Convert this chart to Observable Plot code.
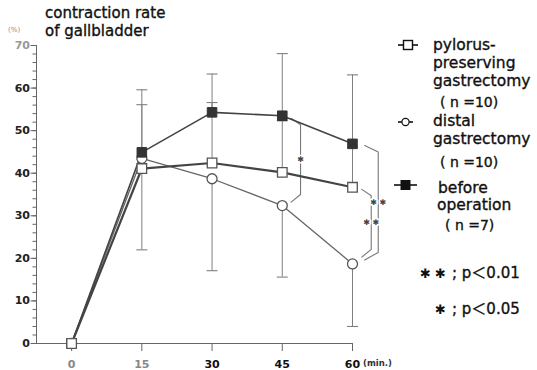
<!DOCTYPE html>
<html><head><meta charset="utf-8">
<script src="https://cdn.jsdelivr.net/npm/d3@7"></script>
<script src="https://cdn.jsdelivr.net/npm/@observablehq/plot@0.6"></script>
<style>
body{margin:0;background:#fff;}
#wrap{position:relative;width:537px;height:370px;font-family:"DejaVu Sans",sans-serif;}
#wrap svg{position:absolute;left:0;top:0;}
</style></head><body><div id="wrap"></div>
<script>
// ---- data ----
const minutes = [0, 15, 30, 45, 60];
const pylorus = [0, 41.1, 42.4, 40.2, 36.7];
const pylorusUpper = [null, 56.1, 56.6, 52.3, 46.0];
const distal = [0, 43.5, 38.7, 32.4, 18.7];
const distalLower = [null, 22.0, 17.1, 15.6, 4.0];
const before = [0, 44.9, 54.3, 53.5, 46.9];
const beforeUpper = [null, 59.6, 63.3, 68.1, 63.1];
const yTicks = [0, 10, 20, 30, 40, 50, 60, 70];
const yMinorTicks = [0,2,4,6,8,10,12,14,16,18,20,22,24,26,28,30,32,34,36,38,40,42,44,46,48,50,52,54,56,58,60,62,64,66,68,70];
const xDomain = [-7.5, 60];
const yDomain = [0, 70];
const titleLines = ["contraction rate", "of gallbladder"];
const legendNames = [["pylorus-", "preserving", "gastrectomy"], ["distal", "gastrectomy"], ["before", "operation"]];
const legendN = ["( n =10)", "( n =10)", "( n =7)"];
const sigStars = ["✱ ✱", "✱"];
const sigText = [";  p＜0.01", ";  p＜0.05"];
// significance comparisons: time, upper series, lower series, label
const comparisons = [
  {t: 45, upper: "before", lower: "distal", label: "✱"},
  {t: 60, upper: "before", lower: "distal", label: "✱ ✱"},
  {t: 60, upper: "pylorus", lower: "distal", label: "✱ ✱"}
];

// ---- build tables ----
const seriesVals = {pylorus, distal, before};
const pts = name => minutes.map((t, i) => ({t, v: seriesVals[name][i]}));
const errUp = (vals, ups) => minutes.map((t, i) => ({t, a: vals[i], b: ups[i]})).filter(d => d.b != null);
const errs = [...errUp(pylorus, pylorusUpper), ...errUp(before, beforeUpper), ...errUp(distal, distalLower)];

// bracket geometry (style offsets in minutes / %)
const bracketStyle = [
  {gap: 1.9, off: 3.9, topPad: 0.6, botPad: 0.8},
  {gap: 2.6, off: 5.5, topPad: 0.4, botPad: 0.9},
  {gap: 2.0, off: 4.0, topPad: 0.5, botPad: 1.6}
];
const bracketPts = [];
const bracketLabels = [];
comparisons.forEach((c, k) => {
  const i = minutes.indexOf(c.t), s = bracketStyle[k];
  const yTop = seriesVals[c.upper][i] - s.topPad;
  const yBot = seriesVals[c.lower][i] + s.botPad;
  bracketPts.push({k, t: c.t + s.gap, v: yTop});
  bracketPts.push({k, t: c.t + s.off, v: yTop - 1.5});
  bracketPts.push({k, t: c.t + s.off, v: yBot + 1.8});
  bracketPts.push({k, t: c.t + s.gap, v: yBot});
  bracketLabels.push({t: c.t + s.off, v: (yTop - 1.5 + yBot + 1.8) / 2, label: c.label});
});

const capSymbol = {draw(ctx, size) { const w = Math.sqrt(size / Math.PI); ctx.moveTo(-w, 0); ctx.lineTo(w, 0); }};
const sq = 5.4; // square "r"

const plot = Plot.plot({
  width: 537, height: 370,
  marginLeft: 36, marginRight: 185, marginTop: 45, marginBottom: 27,
  style: {fontFamily: "DejaVu Sans, sans-serif", background: "transparent"},
  x: {domain: xDomain},
  y: {domain: yDomain},
  marks: [
    Plot.axisY({ticks: yMinorTicks, tickSize: 3.5, text: null, label: null, stroke: "#666"}),
    Plot.axisY({ticks: yTicks, tickSize: 5.5, tickPadding: 1, label: null, fontSize: 11, fontWeight: "bold", stroke: "#666",
      fill: d => d === 70 ? "#999" : "#222"}),
    Plot.axisX({ticks: minutes, tickSize: 8, tickPadding: 9, label: null, fontSize: 11, fontWeight: "bold", stroke: "#666",
      fill: d => (d === 0 || d === 15) ? "#888" : "#111"}),
    Plot.frame({anchor: "left", stroke: "#666"}),
    Plot.frame({anchor: "bottom", stroke: "#666"}),
    // error bars
    Plot.ruleX(errs, {x: "t", y1: "a", y2: "b", stroke: "#808080", strokeWidth: 1}),
    Plot.dot(errs, {x: "t", y: "b", symbol: capSymbol, r: 5.5, fill: "none", stroke: "#808080", strokeWidth: 1.1}),
    // brackets
    Plot.line(bracketPts, {x: "t", y: "v", z: "k", stroke: "#777", strokeWidth: 1.1, curve: "linear"}),
    Plot.text(bracketLabels, {x: "t", y: "v", text: "label", fontSize: 8, fill: "#444",
      stroke: "white", strokeWidth: 3, paintOrder: "stroke"}),
    // lines
    Plot.line(pts("distal"), {x: "t", y: "v", stroke: "#666", strokeWidth: 1.3}),
    Plot.line(pts("before"), {x: "t", y: "v", stroke: "#444", strokeWidth: 1.6}),
    Plot.line(pts("pylorus"), {x: "t", y: "v", stroke: "#444", strokeWidth: 2.2}),
    // markers
    Plot.dot(pts("distal"), {x: "t", y: "v", r: 5, fill: "white", stroke: "#555", strokeWidth: 1.3}),
    Plot.dot(pts("before"), {x: "t", y: "v", symbol: "square", r: sq, fill: "#333", stroke: "#333", strokeWidth: 1}),
    Plot.dot(pts("pylorus"), {x: "t", y: "v", symbol: "square", r: sq, fill: "white", stroke: "#555", strokeWidth: 1.3})
  ]
});
document.getElementById("wrap").appendChild(plot);

// ---- overlay texts / legend ----
const ov = d3.select("#wrap").append("svg").attr("width", 537).attr("height", 370)
  .style("font-family", "DejaVu Sans, sans-serif").style("pointer-events", "none");
const heavy = sel => sel.attr("stroke", "#111").attr("stroke-width", 0.35);
ov.selectAll("text.title").data(titleLines).join("text")
  .attr("x", 45).attr("y", (d, i) => 18 + i * 18).attr("font-size", 15).attr("fill", "#111").call(heavy).text(d => d);
ov.append("text").attr("x", 8).attr("y", 32).attr("font-size", 7).attr("fill", "#888").text("(%)");
ov.append("text").attr("x", 363).attr("y", 366).attr("font-size", 8.5).attr("font-weight", "bold").attr("fill", "#333").text("(min.)");

// legend symbols
const lg = [{y: 45, kind: "sq"}, {y: 122, kind: "circ"}, {y: 185, kind: "fill"}];
lg.forEach(s => {
  const g = ov.append("g");
  const x0 = s.kind === "fill" ? 394 : 398, x1 = s.kind === "fill" ? 417 : (s.kind === "circ" ? 413 : 418);
  const cx = (x0 + x1) / 2;
  g.append("line").attr("x1", x0).attr("x2", x1).attr("y1", s.y).attr("y2", s.y).attr("stroke", "#111").attr("stroke-width", 1.6);
  if (s.kind === "circ") g.append("circle").attr("cx", cx).attr("cy", s.y).attr("r", 3.6).attr("fill", "white").attr("stroke", "#111").attr("stroke-width", 1.2);
  else if (s.kind === "sq") g.append("rect").attr("x", cx - 4.5).attr("y", s.y - 4.5).attr("width", 9).attr("height", 9).attr("fill", "white").attr("stroke", "#111").attr("stroke-width", 1.4);
  else g.append("rect").attr("x", cx - 5).attr("y", s.y - 5).attr("width", 10).attr("height", 10).attr("fill", "#111");
});
const legendPos = [
  {x: [433, 433, 433], y: [50, 68, 86], nx: 440, ny: 106.5},
  {x: [433, 433], y: [126, 144], nx: 440, ny: 166.5},
  {x: [438, 437], y: [192.5, 210], nx: 445, ny: 230}
];
legendNames.forEach((lines, k) => {
  lines.forEach((s, j) => ov.append("text").attr("x", legendPos[k].x[j]).attr("y", legendPos[k].y[j])
    .attr("font-size", 15.5).attr("fill", "#111").call(heavy).text(s));
  ov.append("text").attr("x", legendPos[k].nx).attr("y", legendPos[k].ny).attr("font-size", 14)
    .attr("fill", "#111").call(heavy).text(legendN[k]);
});
sigText.forEach((s, i) => {
  const y = 278 + i * 36;
  ov.append("text").attr("x", 446).attr("y", y - 0.5).attr("text-anchor", "end").attr("font-size", 13)
    .attr("fill", "#111").text(sigStars[i]);
  ov.append("text").attr("x", 452).attr("y", y).attr("font-size", 15).attr("fill", "#111")
    .style("font-family", "DejaVu Sans, Noto Sans CJK JP, sans-serif").call(heavy).text(s);
});
</script></body></html>
